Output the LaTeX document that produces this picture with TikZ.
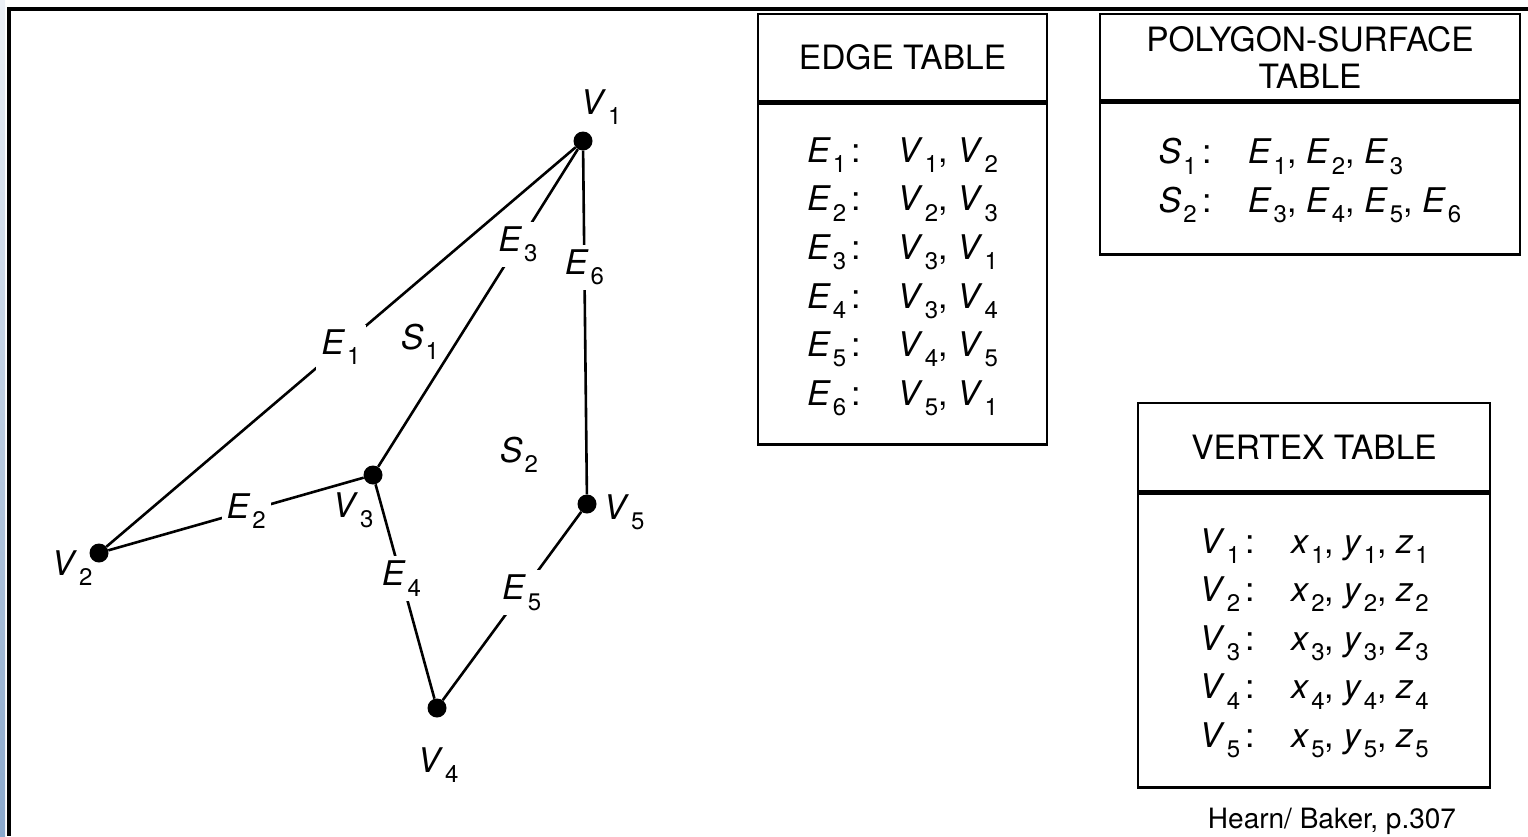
\documentclass[tikz,border=0pt]{standalone}
\usepackage{fontspec}
\setmainfont{TeX Gyre Heros}
\usetikzlibrary{positioning, calc}
\definecolor{striptop}{RGB}{236, 240, 246}
\definecolor{stripbot}{RGB}{138, 168, 204}
\newcommand{\ix}[2]{\textit{#1}\kern2pt\raisebox{-0.3em}{\fontsize{24}{24}\selectfont#2}}

\begin{document}
\begin{tikzpicture}[
    x=1pt, y=-1pt,
    vdot/.style={circle, fill=black, inner sep=0pt, minimum size=19pt},
    vlabel/.style={inner sep=0pt, font=\fontsize{34}{40}\selectfont},
    elabel/.style={fill=white, inner sep=5pt, font=\fontsize{34}{40}\selectfont},
    edge/.style={line width=2.6pt},
    headbox/.style={draw, line width=2.5pt, align=center, font=\fontsize{33.5}{37}\selectfont},
    bodybox/.style={draw, line width=2.5pt, font=\fontsize{34}{48.6}\selectfont},
    framerule/.style={line width=4pt, black}
]
\useasboundingbox (0,0) rectangle (1528,836);

% Page frame
\shade[top color=striptop, bottom color=stripbot] (0,0) rectangle (5,836);
\draw[framerule] (7,9) -- (1528,9);
\draw[framerule] (9,7) -- (9,836);

% Vertices
\node[vdot] (v1) at (583,141) {};
\node[vdot] (v2) at (99,553) {};
\node[vdot] (v3) at (373,475) {};
\node[vdot] (v4) at (437,708) {};
\node[vdot] (v5) at (587,504) {};

\node[vlabel] (v1lab) at (601,107) {\ix{V}{1}};
\node[vlabel] (v2lab) at (72,568) {\ix{V}{2}};
\node[vlabel] (v3lab) at (353,510) {\ix{V}{3}};
\node[vlabel] (v4lab) at (438,765) {\ix{V}{4}};
\node[vlabel] (v5lab) at (624,512) {\ix{V}{5}};

% Surfaces
\node[vlabel] (s1lab) at (420,342) {\ix{S}{1}};
\node[vlabel] (s2lab) at (519,455) {\ix{S}{2}};

% Edges
\draw[edge] (v2) -- node[elabel, pos=0.50] {\ix{E}{1}} (v1);
\draw[edge] (v2) -- node[elabel, pos=0.54] {\ix{E}{2}} (v3);
\draw[edge] (v3) -- node[elabel, pos=0.70] {\ix{E}{3}} (v1);
\draw[edge] (v3) -- node[elabel, pos=0.44] {\ix{E}{4}} (v4);
\draw[edge] (v4) -- node[elabel, pos=0.57] {\ix{E}{5}} (v5);
\draw[edge] (v5) -- node[elabel, pos=0.66] {\ix{E}{6}} (v1);

% Edge table
\node[headbox, minimum width=289pt, minimum height=87pt] (ehead) at (902.5,57.5) {EDGE TABLE};
\node[bodybox, minimum width=289pt, minimum height=341pt, below=0pt of ehead] (ebody) {%
  \begin{tabular}{@{}l@{\hspace{36pt}}l@{}}
    \ix{E}{1}\,: & \ix{V}{1}, \ix{V}{2}\\
    \ix{E}{2}\,: & \ix{V}{2}, \ix{V}{3}\\
    \ix{E}{3}\,: & \ix{V}{3}, \ix{V}{1}\\
    \ix{E}{4}\,: & \ix{V}{3}, \ix{V}{4}\\
    \ix{E}{5}\,: & \ix{V}{4}, \ix{V}{5}\\
    \ix{E}{6}\,: & \ix{V}{5}, \ix{V}{1}
  \end{tabular}};

% Polygon-surface table
\node[headbox, minimum width=420pt, minimum height=86pt] (phead) at (1310,57) {POLYGON-SURFACE\\TABLE};
\node[bodybox, minimum width=420pt, minimum height=152pt, below=0pt of phead] (pbody) {%
  \begin{tabular}{@{}l@{\hspace{36pt}}l@{}}
    \ix{S}{1}\,: & \ix{E}{1}, \ix{E}{2}, \ix{E}{3}\\
    \ix{S}{2}\,: & \ix{E}{3}, \ix{E}{4}, \ix{E}{5}, \ix{E}{6}
  \end{tabular}};

% Vertex table
\node[headbox, minimum width=352pt, minimum height=88pt] (vhead) at (1314,447) {VERTEX TABLE};
\node[bodybox, minimum width=352pt, minimum height=294pt, below=0pt of vhead] (vbody) {%
  \begin{tabular}{@{}l@{\hspace{36pt}}l@{}}
    \ix{V}{1}\,: & \ix{x}{1}, \ix{y}{1}, \ix{z}{1}\\
    \ix{V}{2}\,: & \ix{x}{2}, \ix{y}{2}, \ix{z}{2}\\
    \ix{V}{3}\,: & \ix{x}{3}, \ix{y}{3}, \ix{z}{3}\\
    \ix{V}{4}\,: & \ix{x}{4}, \ix{y}{4}, \ix{z}{4}\\
    \ix{V}{5}\,: & \ix{x}{5}, \ix{y}{5}, \ix{z}{5}
  \end{tabular}};

% Source
\node[inner sep=0pt, font=\fontsize{28}{32}\selectfont] (src) at (1332,821) {Hearn/ Baker, p.307};

\end{tikzpicture}
\end{document}
